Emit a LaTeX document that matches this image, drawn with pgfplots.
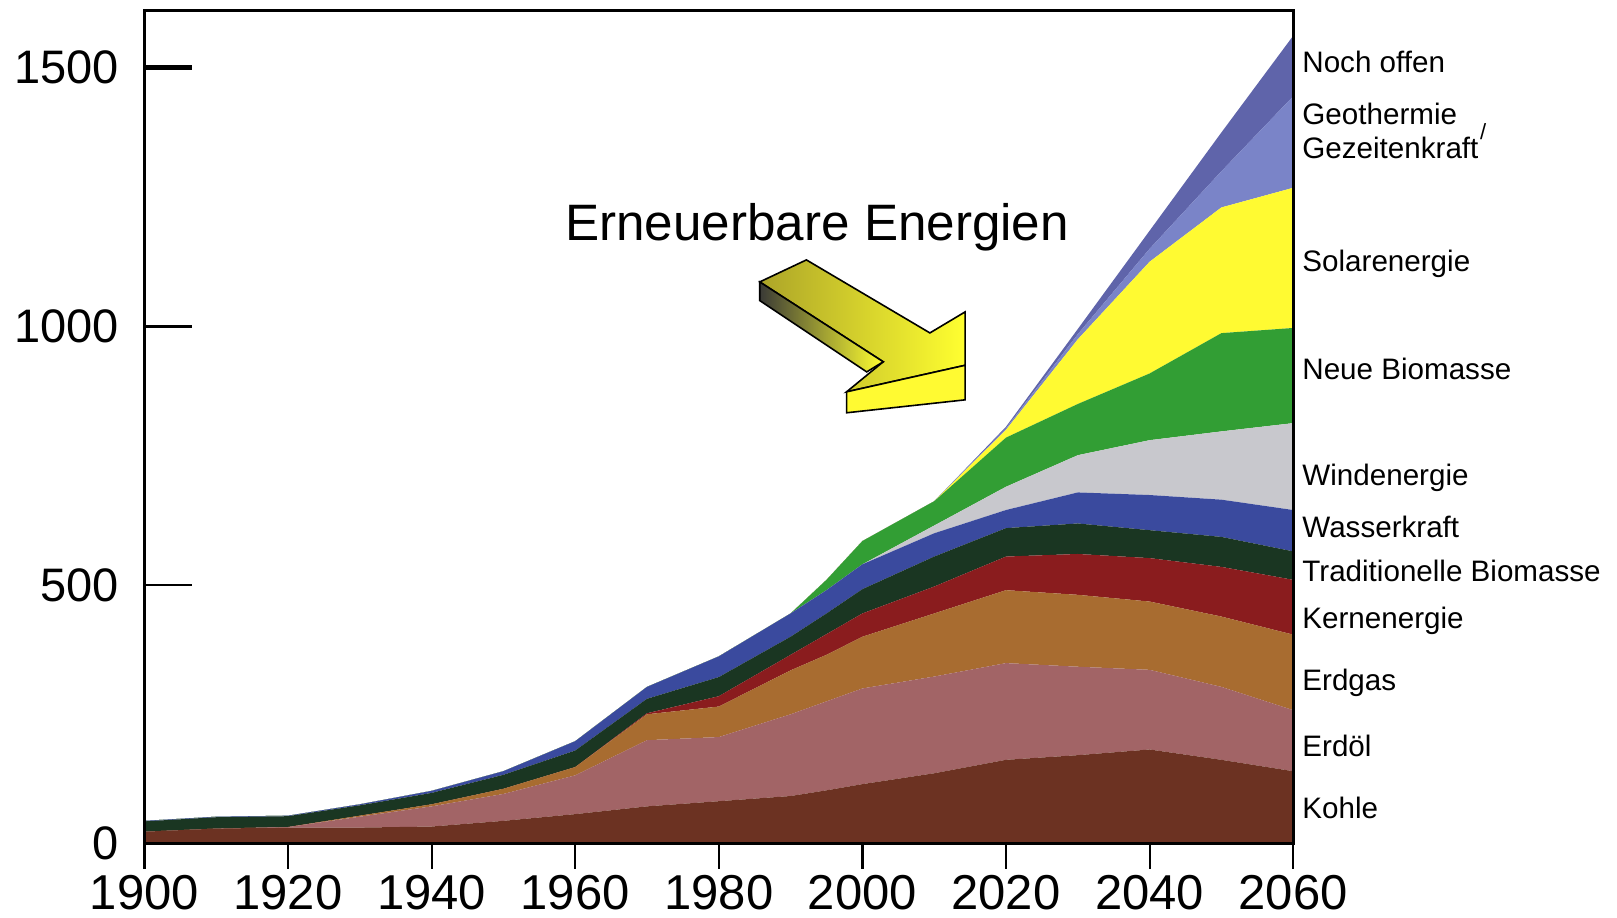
\documentclass[border=0pt]{standalone}
\usepackage{pgfplots}
\pgfplotsset{compat=1.18}
\usepackage{pgfplotstable}
\usepackage{fontspec}
\setmainfont{Liberation Sans}

\definecolor{cKohle}{HTML}{6C3222}
\definecolor{cOel}{HTML}{A26466}
\definecolor{cGas}{HTML}{A86C30}
\definecolor{cKern}{HTML}{8A1C1E}
\definecolor{cTrad}{HTML}{1A3622}
\definecolor{cWasser}{HTML}{3A4A9E}
\definecolor{cWind}{HTML}{C8C8CD}
\definecolor{cNeuBio}{HTML}{329E34}
\definecolor{cSolar}{HTML}{FFFA32}
\definecolor{cGeo}{HTML}{7A84C8}
\definecolor{cOffen}{HTML}{5F64AA}
\definecolor{cArrowDark}{HTML}{ACA428}
\definecolor{cArrowLight}{HTML}{FFFF30}
\definecolor{cArrowSide}{HTML}{3A3A36}

\pgfplotstableread{
year kohle oel gas kern trad wasser wind neubio solar geo offen
1900 23 0 0 0 20 1 0 0 0 0 0
1910 29 0 0 0 22 1 0 0 0 0 0
1920 31 1 0 0 21 1 0 0 0 0 0
1930 31 21 2 0 20 2 0 0 0 0 0
1940 33 39 4 0 22 4 0 0 0 0 0
1950 44 52 10 0 27 7 0 0 0 0 0
1960 57 75 16 0 32 18 0 0 0 0 0
1970 72 128 50 2 28 23 0 0 0 0 0
1980 82 124 59 20 37 40 0 0 0 0 0
1990 92 158 85 30 35 45 0 0 0 0 0
1995 103 172 90 40 40 45 0 20 0 0 0
2000 115 185 100 45 47 48 0 45 0 0 0
2010 136 187 122 52 58 45 15 47 0 0 0
2020 162 187 141 65 55 35 45 95 15 3 3
2030 171 171 139 79 59 60 72 99 125 10 10
2040 182 154 132 84 54 68 106 129 216 25 35
2050 162 141 136 96 58 72 132 190 243 70 75
2060 140 118 146 106 55 80 168 184 271 177 117
}\energydata

\tikzset{rlab/.style={anchor=mid west, inner sep=0pt, xshift=4.4pt, font=\fontsize{14.8}{17}\selectfont}}

\begin{document}
\begin{tikzpicture}
\path[use as bounding box] (0,0) rectangle (808.5pt,458.5pt);
\begin{axis}[
  at={(72.2pt,36.7pt)}, anchor=south west,
  scale only axis, width=574.4pt, height=416.6pt,
  xmin=1900, xmax=2060, ymin=0, ymax=1611,
  stack plots=y,
  axis on top,
  clip=false,
  xtick=\empty,
  ytick={0,500,1000},
  extra y ticks={1500},
  extra y tick style={tick style={line width=2.6pt}},
  ytick pos=left,
  tick align=inside,
  major tick length=24pt,
  tick style={black, line width=1.4pt},
  axis line style={line width=1.3pt},
  yticklabel style={font=\fontsize{23.5}{27}\selectfont, inner sep=0pt, xshift=-12.5pt},
  /pgf/number format/assume math mode=true,
  /pgf/number format/1000 sep={},
]
\addplot[fill=cKohle, draw=none] table[x=year,y=kohle]{\energydata} \closedcycle;
\addplot[fill=cOel, draw=none] table[x=year,y=oel]{\energydata} \closedcycle;
\addplot[fill=cGas, draw=none] table[x=year,y=gas]{\energydata} \closedcycle;
\addplot[fill=cKern, draw=none] table[x=year,y=kern]{\energydata} \closedcycle;
\addplot[fill=cTrad, draw=none] table[x=year,y=trad]{\energydata} \closedcycle;
\addplot[fill=cWasser, draw=none] table[x=year,y=wasser]{\energydata} \closedcycle;
\addplot[fill=cWind, draw=none] table[x=year,y=wind]{\energydata} \closedcycle;
\addplot[fill=cNeuBio, draw=none] table[x=year,y=neubio]{\energydata} \closedcycle;
\addplot[fill=cSolar, draw=none] table[x=year,y=solar]{\energydata} \closedcycle;
\addplot[fill=cGeo, draw=none] table[x=year,y=geo]{\energydata} \closedcycle;
\addplot[fill=cOffen, draw=none] table[x=year,y=offen]{\energydata} \closedcycle;

\draw[black, line width=0.8pt, left color=cArrowSide, right color=cArrowLight]
  (axis cs:1985.7,1086) -- (axis cs:2002.9,931.6) -- (axis cs:2000.6,912) -- (axis cs:1985.7,1050) -- cycle;
\draw[black, line width=0.8pt, fill=cSolar]
  (axis cs:1997.8,873.5) -- (axis cs:2014.3,924.8) -- (axis cs:2014.3,858) -- (axis cs:1997.8,833) -- cycle;
\draw[black, line width=0.8pt, left color=cArrowDark, right color=cArrowLight]
  (axis cs:1985.7,1086) -- (axis cs:1992.2,1128.6) -- (axis cs:2009.4,987.4) -- (axis cs:2014.3,1028)
  -- (axis cs:2014.3,924.8) -- (axis cs:1997.8,873.5) -- (axis cs:2002.9,931.6) -- cycle;
\node[font=\fontsize{25.6}{30}\selectfont, inner sep=0pt] at (axis cs:1993.7,1192) {Erneuerbare Energien};

\node[rlab] at (axis cs:2060,1501) {Noch offen};
\node[rlab] at (axis cs:2060,1401) {Geothermie};
\node[rlab] at (axis cs:2060,1334) {Gezeitenkraft};
\node[rlab] at (axis cs:2060,1116) {Solarenergie};
\node[rlab] at (axis cs:2060,908) {Neue Biomasse};
\node[rlab] at (axis cs:2060,703) {Windenergie};
\node[rlab] at (axis cs:2060,603) {Wasserkraft};
\node[rlab] at (axis cs:2060,517) {Traditionelle Biomasse};
\node[rlab] at (axis cs:2060,426) {Kernenergie};
\node[rlab] at (axis cs:2060,306) {Erdgas};
\node[rlab] at (axis cs:2060,178) {Erdöl};
\node[rlab] at (axis cs:2060,59) {Kohle};
\node[anchor=center, inner sep=0pt, xshift=95pt, font=\fontsize{11}{12}\selectfont] at (axis cs:2060,1376) {/};
\end{axis}

\begin{axis}[
  at={(72.2pt,36.7pt)}, anchor=south west,
  scale only axis, width=574.4pt, height=416.6pt,
  xmin=1900, xmax=2060, ymin=0, ymax=1611,
  hide y axis,
  axis x line*=bottom,
  xtick={1900,1920,...,2060},
  tick align=outside,
  major tick length=12.5pt,
  tick style={black, line width=1.1pt},
  axis line style={line width=1.3pt},
  xticklabel style={font=\fontsize{24.5}{28}\selectfont, inner sep=0pt, yshift=-3pt},
  /pgf/number format/assume math mode=true,
  /pgf/number format/1000 sep={},
]
\end{axis}
\end{tikzpicture}
\end{document}
